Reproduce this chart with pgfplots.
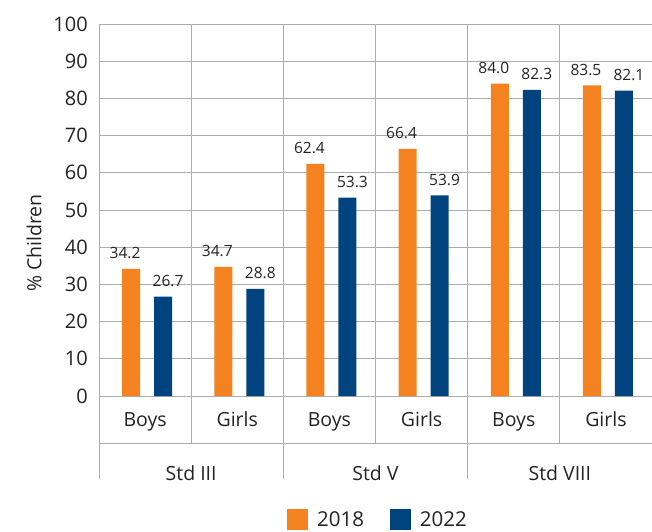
\documentclass[border=0pt]{standalone}
\usepackage{pgfplots}
\pgfplotsset{compat=1.18}
\usepackage{fontspec}
\setmainfont{Open Sans}
\definecolor{orng}{RGB}{245,130,32}
\definecolor{navy}{RGB}{0,67,127}
\definecolor{gridc}{RGB}{172,172,172}
\definecolor{txt}{RGB}{35,35,35}
\begin{document}
\begin{tikzpicture}[x=1pt,y=1pt]
\useasboundingbox (0,0) rectangle (652,531);
\begin{axis}[
  at={(99pt,135pt)}, anchor=south west,
  scale only axis, width=553pt, height=372pt,
  xmin=0, xmax=6, ymin=0, ymax=100,
  ytick={0,10,...,100},
  xtick={0.5,1.5,2.5,3.5,4.5,5.5},
  xticklabels={Boys,Girls,Boys,Girls,Boys,Girls},
  minor xtick={0,1,2,3,4,5,6},
  ymajorgrids, xminorgrids,
  grid style={gridc, line width=1pt},
  minor grid style={gridc, line width=1pt},
  axis line style={draw=none},
  major tick length=0pt, minor tick length=0pt,
  clip=false,
  /pgf/number format/assume math mode=true,
  yticklabel style={font=\fontsize{20}{24}\selectfont, text=txt, inner sep=0pt, anchor=east, xshift=-11pt},
  xticklabel style={font=\fontsize{19.5}{24}\selectfont, text=txt, inner sep=0pt, anchor=base, yshift=-30pt},
  ylabel={\% Children},
  ylabel style={font=\fontsize{19.5}{24}\selectfont, text=txt, at={(axis description cs:-0.1175,0.411)}, anchor=center},
  ybar, bar width=18pt,
  nodes near coords={\pgfmathprintnumber[fixed,fixed zerofill,precision=1]{\pgfplotspointmeta}},
  every node near coord/.append style={font=\fontsize{15.5}{18}\selectfont, text=txt, anchor=base, yshift=10pt, inner sep=0pt},
  legend columns=2,
  legend image code/.code={\fill[#1] (0pt,-10.5pt) rectangle (21pt,10.5pt);},
  legend style={at={(axis description cs:0.5027,-0.3333)}, anchor=center, draw=none, fill=none,
    font=\fontsize{20.5}{24}\selectfont, text=txt,
    nodes={inner sep=0pt},
    /tikz/every odd column/.style={column sep=9pt},
    /tikz/every even column/.style={column sep=26pt}},
]
\addplot[fill=orng, draw=none, bar shift=-14pt, every node near coord/.append style={xshift=-6pt}]
  coordinates {(0.5,34.2) (1.5,34.7) (2.5,62.4) (3.5,66.4) (4.5,84.0) (5.5,83.5)};
\addplot[fill=navy, draw=none, bar shift=18pt, every node near coord/.append style={xshift=5pt}]
  coordinates {(0.5,26.7) (1.5,28.8) (2.5,53.3) (3.5,53.9) (4.5,82.3) (5.5,82.1)};
\legend{2018,2022}
\pgfplotsinvokeforeach{0,1,2,3,4,5,6}{
  \draw[gridc, line width=1pt] (axis cs:#1,0) -- ++(0pt,-47pt);
}
\pgfplotsinvokeforeach{0,2,4,6}{
  \draw[gridc, line width=1pt] (axis cs:#1,0) -- ++(0pt,-83pt);
}
\draw[gridc, line width=1pt] ([yshift=-47pt]axis cs:0,0) -- ([yshift=-47pt]axis cs:6,0);
\node[anchor=base, inner sep=0pt, font=\fontsize{19.5}{24}\selectfont, text=txt] at ([yshift=-84pt]axis cs:1,0) {Std III};
\node[anchor=base, inner sep=0pt, font=\fontsize{19.5}{24}\selectfont, text=txt] at ([yshift=-84pt]axis cs:3,0) {Std V};
\node[anchor=base, inner sep=0pt, font=\fontsize{19.5}{24}\selectfont, text=txt] at ([yshift=-84pt]axis cs:5,0) {Std VIII};
\end{axis}
\end{tikzpicture}
\end{document}
